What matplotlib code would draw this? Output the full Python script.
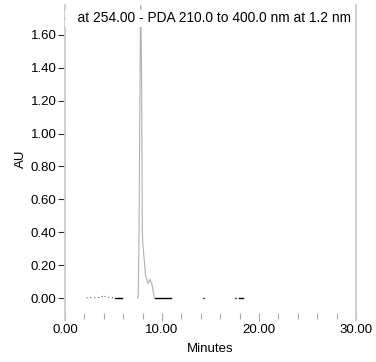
import matplotlib
matplotlib.use("Agg")
import matplotlib.pyplot as plt
from matplotlib.ticker import MultipleLocator

plt.rcParams['font.family'] = ['Liberation Sans', 'DejaVu Sans']

# early baseline noise (minutes, AU)
noise_t = [2.2, 2.8, 3.3, 3.7, 3.9, 4.0, 4.15, 4.4, 4.8, 5.1]
noise_au = [0.002, 0.003, 0.002, 0.006, 0.012, 0.018, 0.008, 0.004, 0.002, 0.002]

# main peak
peak_t = [7.45, 7.55, 7.63, 7.72, 7.80, 7.90, 7.97, 8.02, 8.32, 8.59, 8.76, 8.94, 9.2]
peak_au = [0.0, 0.012, 0.36, 1.20, 1.85, 1.30, 0.41, 0.33, 0.13, 0.089, 0.114, 0.089, 0.004]

# integration baseline marks
base_segs = [(5.15, 5.85), (9.3, 10.9), (17.9, 18.3)]
base_dots = [14.2, 17.5]

title = "PDA 254.6   at 254.00 - PDA 210.0 to 400.0 nm at 1.2 nm"

fig = plt.figure(figsize=(3.76, 3.62), dpi=100)
ax = fig.add_axes([0.1729, 0.1354, 0.7739, 0.8508])

trace_col = '#b0b0b0'
ax.plot(noise_t, noise_au, color='#666666', lw=0.8, ls=(0, (1, 2.5)))
ax.plot(peak_t, peak_au, color=trace_col, lw=0.8)
for a, b in base_segs:
    ax.plot([a, b], [0.0, 0.0], color='black', lw=1.0)
for t in base_dots:
    ax.plot([t, t + 0.12], [0.0, 0.0], color='#555555', lw=1.0)

ax.set_xlim(0, 30)
ax.set_ylim(-0.091, 1.782)

ax.xaxis.set_major_locator(MultipleLocator(10))
ax.xaxis.set_minor_locator(MultipleLocator(2))
ax.yaxis.set_major_locator(MultipleLocator(0.2))
ax.xaxis.set_major_formatter(lambda v, p: f"{v:.2f}")
ax.yaxis.set_major_formatter(lambda v, p: f"{v:.2f}")

for s in ['top', 'bottom']:
    ax.spines[s].set_visible(False)
for s in ['left', 'right']:
    ax.spines[s].set_color('#cccccc')
    ax.spines[s].set_linewidth(1.3)
    ax.spines[s].set_bounds(-0.135, 1.782)

ax.tick_params(axis='y', which='major', direction='out', length=5, width=0.8,
               color='#333333', labelsize=9.5, pad=1)
ax.tick_params(axis='x', which='major', direction='out', length=6, width=0.8,
               color='#aaaaaa', labelsize=9.5, pad=2)
ax.tick_params(axis='x', which='minor', direction='out', length=4, width=0.8,
               color='#aaaaaa')

ax.set_xlabel("Minutes", fontsize=9.5, labelpad=5)
ax.set_ylabel("AU", fontsize=9.5, labelpad=3)

ax.text(29.45, 1.70, title, ha='right', va='center', fontsize=9.9,
        clip_on=True, zorder=5,
        bbox=dict(facecolor='white', edgecolor='none', pad=1))

fig.savefig("out.png", dpi=100)
